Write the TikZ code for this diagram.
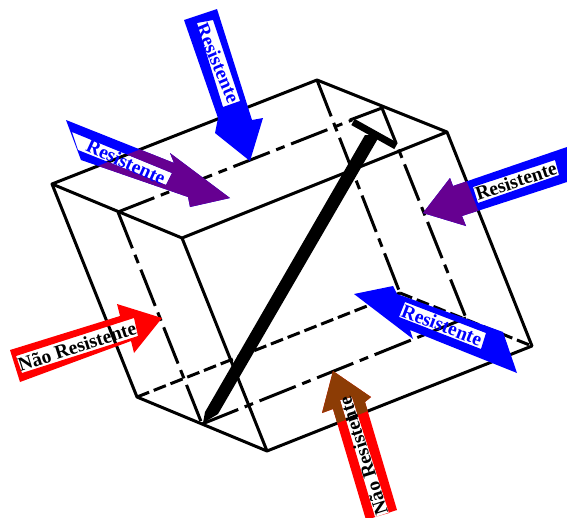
\documentclass[tikz,border=0pt]{standalone}
\usepackage{fontspec}
\setmainfont{Liberation Serif}
\definecolor{purp}{RGB}{102,0,145}
\definecolor{brn}{RGB}{140,60,5}
\tikzset{
  edge/.style={line width=3pt,line join=round},
  dashdot/.style={line width=3pt,dash pattern=on 39pt off 7pt on 9pt off 7pt},
  longdash/.style={line width=3pt,dash pattern=on 13pt off 5pt},
  lbl/.style={inner sep=0pt,font=\fontsize{19.5}{20}\selectfont\bfseries},
}
\begin{document}
\begin{tikzpicture}[x=1pt,y=-1pt]
\useasboundingbox (0,0) rectangle (567,517);
\coordinate (A) at (52,184);
\coordinate (B) at (118,212);
\coordinate (C) at (182,238);
\coordinate (D) at (317,80);
\coordinate (M) at (382,108);
\coordinate (E) at (447,132);
\coordinate (F) at (137,397);
\coordinate (G) at (202,424);
\coordinate (H) at (267,451);
\coordinate (I) at (532,346);
\coordinate (J) at (400,293);
\coordinate (K) at (466,318);
% dashed hidden lines
\draw[dashdot] (B) -- (352,120);
\draw[dashdot] (D) -- (J);
\draw[dashdot,dash phase=39pt] (396,143) -- (K);
\draw[dashdot] (B) -- (G);
\draw[dashdot] (G) -- (K);
\draw[longdash] (F) -- (J);
\draw[longdash] (J) -- (I);
% solid edges
\draw[edge] (A) -- (D) -- (E) -- (I) -- (H) -- (F) -- cycle;
\draw[edge] (A) -- (C) -- (E);
\draw[edge] (C) -- (H);
% T bar
\fill (365,135) -- (380,135) -- (218,414) -- (203,423) -- (205,412) -- cycle;
\draw[edge] (350,120) -- (M) -- (396,143);
\draw[line width=7pt] (353,122) -- (396,146);
% arrows (the plates are holes in them)
\fill[blue,even odd rule] (184,20) -- (217,9) -- (252,120) -- (263,118) -- (250,161) -- (215,133) -- (218,118) -- cycle
  (197,23) -- (213,20) -- (240,101) -- (223,107) -- cycle;
\def\arrowL{(66,120) -- (174,163) -- (170,153) -- (230,198) -- (190,207) -- (188,197) -- (81,160) -- cycle
  (72,132) -- (172,173) -- (166,185) -- (78,150) -- cycle}
\fill[blue,even odd rule] \arrowL;
\begin{scope}
\clip (A) -- (D) -- (E) -- (C) -- cycle;
\fill[purp,even odd rule] \arrowL;
\end{scope}
\def\arrowR{(567,147) -- (453,186) -- (450,178) -- (423,213) -- (466,226) -- (462,216) -- (567,182) -- cycle
  (473,187) -- (555,160) -- (559,175) -- (478,203) -- cycle}
\fill[blue,even odd rule] \arrowR;
\begin{scope}
\clip (C) -- (E) -- (I) -- (H) -- cycle;
\fill[purp,even odd rule] \arrowR;
\end{scope}
\fill[blue,even odd rule] (354,294) -- (393,286) -- (397,294) -- (503,332) -- (517,373) -- (410,330) -- (413,339) -- cycle
  (405,302) -- (486,333) -- (481,349) -- (399,317) -- cycle;
\fill[red,even odd rule] (10,350) -- (120,316) -- (117,304) -- (162,318) -- (134,353) -- (131,341) -- (20,382) -- cycle
  (16,356) -- (134,318) -- (138,336) -- (22,373) -- cycle;
\def\arrowB{(333,371) -- (371,397) -- (365,402) -- (397,510) -- (366,520) -- (333,409) -- (322,413) -- cycle
  (340,400) -- (352,397) -- (389,513) -- (375,517) -- cycle}
\fill[red,even odd rule] \arrowB;
\begin{scope}
\clip (F) -- (H) -- (I) -- (J) -- cycle;
\fill[brn,even odd rule] \arrowB;
\end{scope}
% labels
\node[lbl,text=blue,rotate=-67] (t1) at (218,63) {Resistente};
\node[lbl,text=blue,rotate=-24.5] (t2) at (126,162) {Resistente};
\node[lbl,rotate=18.5] (t3) at (516,181) {Resistente};
\node[lbl,text=blue,rotate=-21] (t4) at (442,325) {Resistente};
\node[lbl,rotate=18] (t5) at (77,346) {Não Resistente};
\node[lbl,rotate=108] (t6) at (363,456) {Não Resistente};
\end{tikzpicture}
\end{document}
